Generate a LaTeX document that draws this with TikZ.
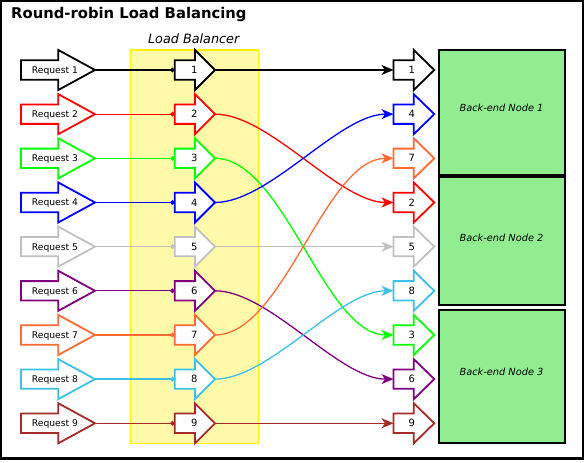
\documentclass[tikz,border=0pt]{standalone}
\usepackage{fontspec}
\setmainfont{DejaVu Sans}
\usetikzlibrary{arrows.meta}
\definecolor{c1}{HTML}{000000}
\definecolor{c2}{HTML}{FF0000}
\definecolor{c3}{HTML}{00FF00}
\definecolor{c4}{HTML}{0000FF}
\definecolor{c5}{HTML}{C0C0C0}
\definecolor{c6}{HTML}{800080}
\definecolor{c7}{HTML}{FF6A33}
\definecolor{c8}{HTML}{3DC0E8}
\definecolor{c9}{HTML}{A52A2A}
\definecolor{lbfill}{RGB}{255,250,170}
\definecolor{befill}{HTML}{90EE90}
\begin{document}
\begin{tikzpicture}[x=1pt,y=-1pt,
  blk/.style={line width=1.8pt,line join=miter,fill=white},
  conn/.style={line width=1.3pt},
  reqtext/.style={font=\fontsize{9.2}{9.2}\selectfont,inner sep=0pt,anchor=base},
  numtext/.style={font=\fontsize{10}{10}\selectfont,inner sep=0pt,anchor=base},
  betext/.style={font=\itshape\fontsize{9.8}{9.8}\selectfont,inner sep=0pt,anchor=base},
  bebox/.style={draw=black,fill=befill,line width=2pt,inner sep=0pt,outer sep=0pt,anchor=north west,minimum width=126.5pt},
  lbbox/.style={draw=yellow,fill=lbfill,line width=1.5pt,inner sep=0pt,outer sep=0pt,anchor=north west,minimum width=128pt,minimum height=393.5pt},
  tip/.style={-{Stealth[length=12pt,width=10pt,inset=3.5pt]}},
  dot/.style={-{Circle[length=4.5pt]}}]
\useasboundingbox (0,0) rectangle (584,463);
\fill[white] (0,0) rectangle (584,463);
\draw[line width=2.3pt] (1.3,1.3) rectangle (582.7,458.6);
\node[anchor=base west,inner sep=0pt,font=\bfseries\fontsize{14.8}{14.8}\selectfont] (title) at (11,18.3) {Round-robin Load Balancing};
\node[lbbox] (lb) at (130.5,50) {};
\node[anchor=base,inner sep=0pt,font=\itshape\fontsize{12.8}{12.8}\selectfont] (lbtitle) at (193.7,43.3) {Load Balancer};
% back-end nodes
\node[bebox,minimum height=124.5pt] (be1) at (438.5,50) {};
\node[bebox,minimum height=128pt] (be2) at (438.5,177) {};
\node[bebox,minimum height=133pt] (be3) at (438.5,309.5) {};
\node[betext] (bet1) at (501.5,111.5) {Back-end Node 1};
\node[betext] (bet2) at (501.5,241.8) {Back-end Node 2};
\node[betext] (bet3) at (501.5,375) {Back-end Node 3};
% request and load balancer arrows
\foreach \i in {1,...,9} {
  \pgfmathsetmacro\yy{70+(\i-1)*44.16}
  \draw[blk,draw=c\i] (21,\yy-9.7) -- (58.3,\yy-9.7) -- (58.3,\yy-20) -- (95,\yy) -- (58.3,\yy+20) -- (58.3,\yy+9.7) -- (21,\yy+9.7) -- cycle;
  \coordinate (rq\i) at (95,\yy);
  \node[reqtext] (rqt\i) at (55,\yy+3.4) {Request \i};
  \draw[blk,draw=c\i] (174.7,\yy-9.7) -- (195,\yy-9.7) -- (195,\yy-20) -- (215,\yy) -- (195,\yy+20) -- (195,\yy+9.7) -- (174.7,\yy+9.7) -- cycle;
  \coordinate (lbin\i) at (174.7,\yy);
  \coordinate (lbout\i) at (215,\yy);
  \node[numtext] (lbt\i) at (194.3,\yy+3.6) {\i};
}
% back-end arrows (row j carries label L)
\foreach \L [count=\j] in {1,4,7,2,5,8,3,6,9} {
  \pgfmathsetmacro\yy{70+(\j-1)*44.16}
  \draw[blk,draw=c\L] (393.5,\yy-9.7) -- (413.8,\yy-9.7) -- (413.8,\yy-20) -- (434.3,\yy) -- (413.8,\yy+20) -- (413.8,\yy+9.7) -- (393.5,\yy+9.7) -- cycle;
  \coordinate (bk\L) at (393.5,\yy);
  \node[numtext] (bkt\L) at (411.7,\yy+3.6) {\L};
}
% connectors
\foreach \i in {1,...,9} {
  \draw[conn,dot,draw=c\i] (rq\i) -- (lbin\i);
}
\foreach \i in {1,...,9} {
  \draw[conn,tip,draw=c\i] (lbout\i) to[out=0,in=180,looseness=0.7] (bk\i);
}
\end{tikzpicture}
\end{document}
